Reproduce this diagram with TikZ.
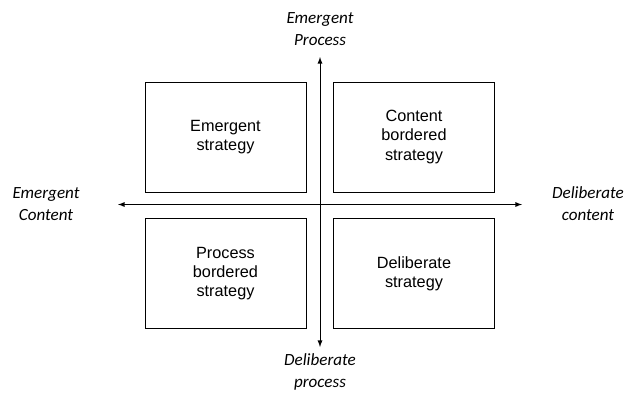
\documentclass[tikz,border=0pt]{standalone}
\usepackage{fontspec}
\setmainfont{Carlito}
\newfontfamily\boxfont{Liberation Sans}
\usetikzlibrary{positioning}

\tikzset{
	quad/.style={draw, line width=0.75pt, minimum width=120.75pt, minimum height=82.5pt, align=center, font=\boxfont\fontsize{12.2}{14.3}\selectfont},
	axislabel/.style={align=center, font=\itshape\fontsize{12.8}{16.5}\selectfont},
	axis/.style={line width=0.7pt, latex-latex}
}

\begin{document}
\begin{tikzpicture}[x=0.75pt, y=-0.75pt]
\useasboundingbox (0,0) rectangle (625,394);

% four quadrants
\node[quad] (emergent) at (225.5,137) {Emergent\\strategy};
\node[quad] (content) at (414,137) {Content\\bordered\\strategy};
\node[quad] (process) at (225.5,273.5) {Process\\bordered\\strategy};
\node[quad] (deliberate) at (414,273.5) {Deliberate\\strategy};

% axes
\coordinate (west) at (118,204.5);
\coordinate (east) at (522,204.5);
\coordinate (north) at (320,57);
\coordinate (south) at (320,347);
\draw[axis] (west) -- (east);
\draw[axis] (south) -- (north);

\node[axislabel] (emproc) at (320,29) {Emergent\\Process};
\node[axislabel] (delproc) at (320,372) {Deliberate\\process};
\node[axislabel] (emcont) at (46,204) {Emergent\\Content};
\node[axislabel] (delcont) at (588,204) {Deliberate\\content};
\end{tikzpicture}
\end{document}
